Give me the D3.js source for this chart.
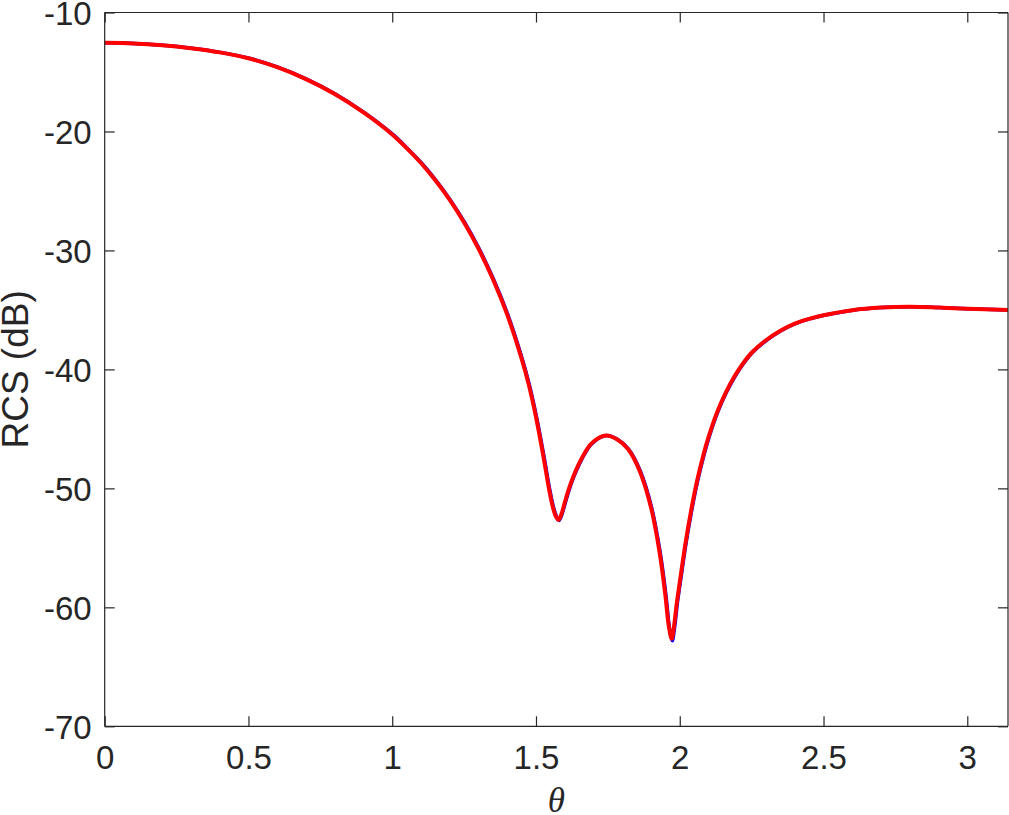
<!DOCTYPE html>
<html>
<head>
<meta charset="utf-8">
<script src="https://cdn.jsdelivr.net/npm/d3@7"></script>
<style>
  html, body { margin: 0; padding: 0; background: #fff; }
  svg { display: block; }
</style>
</head>
<body>
<svg id="chart" width="1009" height="815"></svg>
<script>
// ---- data ----
const theta = [0, 0.1, 0.2, 0.3, 0.4, 0.5, 0.6, 0.7, 0.8, 0.9, 1.0, 1.05, 1.1, 1.15, 1.2, 1.25, 1.3, 1.35, 1.4, 1.45, 1.475, 1.5, 1.525, 1.545, 1.56, 1.57, 1.578, 1.588, 1.6, 1.615, 1.63, 1.65, 1.67, 1.69, 1.715, 1.744, 1.78, 1.82, 1.86, 1.9, 1.93, 1.95, 1.962, 1.972, 1.98, 1.99, 2.0, 2.02, 2.04, 2.06, 2.08, 2.1, 2.13, 2.16, 2.19, 2.22, 2.25, 2.3, 2.35, 2.4, 2.45, 2.5, 2.6, 2.7, 2.8, 2.9, 3.0, 3.1416];
const rcsRed = [-12.55, -12.6, -12.75, -13.0, -13.35, -13.85, -14.6, -15.6, -16.85, -18.4, -20.25, -21.4, -22.65, -24.1, -25.75, -27.65, -29.85, -32.4, -35.4, -39.1, -41.3, -44.0, -47.2, -50.0, -51.7, -52.4, -52.65, -52.2, -51.2, -50.0, -49.0, -47.9, -47.0, -46.3, -45.8, -45.55, -45.85, -46.7, -48.5, -51.6, -55.4, -59.0, -61.6, -62.65, -61.6, -59.6, -57.9, -54.6, -51.8, -49.4, -47.4, -45.7, -43.6, -41.95, -40.6, -39.5, -38.6, -37.55, -36.75, -36.15, -35.75, -35.45, -35.02, -34.8, -34.73, -34.8, -34.9, -35.0];
const thetaBlue = [0, 0.102, 0.202, 0.302, 0.402, 0.502, 0.602, 0.702, 0.802, 0.902, 1.002, 1.052, 1.102, 1.152, 1.202, 1.252, 1.302, 1.352, 1.402, 1.452, 1.477, 1.502, 1.527, 1.547, 1.562, 1.572, 1.580, 1.590, 1.602, 1.617, 1.632, 1.652, 1.672, 1.692, 1.717, 1.746, 1.782, 1.822, 1.862, 1.902, 1.932, 1.952, 1.964, 1.974, 1.982, 1.992, 2.002, 2.022, 2.042, 2.062, 2.082, 2.102, 2.132, 2.162, 2.192, 2.222, 2.252, 2.302, 2.352, 2.402, 2.452, 2.502, 2.602, 2.702, 2.802, 2.902, 3.002, 3.1416];
const rcsBlue = [-12.55, -12.6, -12.75, -13.0, -13.35, -13.85, -14.6, -15.6, -16.85, -18.4, -20.25, -21.4, -22.65, -24.1, -25.75, -27.65, -29.85, -32.4, -35.4, -39.1, -41.3, -44.0, -47.2, -50.0, -51.7, -52.4, -52.7, -52.2, -51.2, -50.0, -49.0, -47.9, -47.0, -46.3, -45.8, -45.55, -45.85, -46.7, -48.5, -51.6, -55.4, -59.0, -61.7, -62.8, -61.7, -59.6, -57.9, -54.6, -51.8, -49.4, -47.4, -45.7, -43.6, -41.95, -40.6, -39.5, -38.6, -37.55, -36.75, -36.15, -35.75, -35.45, -35.02, -34.8, -34.73, -34.8, -34.9, -35.0];
const xTicks = [0, 0.5, 1, 1.5, 2, 2.5, 3];
const yTicks = [-70, -60, -50, -40, -30, -20, -10];
const xLabel = "θ";
const yLabel = "RCS (dB)";

// ---- layout ----
const svg = d3.select("#chart");
const L = 104.7, R = 1008, T = 12.5, B = 726.3;
const x = d3.scaleLinear().domain([0, Math.PI]).range([L, R]);
const y = d3.scaleLinear().domain([-70, -10]).range([B, T]);
const axisColor = "#262626";
const font = "'Liberation Sans', Helvetica, Arial, sans-serif";
const tickLen = 10;
const fmt = d => String(d);

const g = svg.append("g");

// curves
svg.append("defs").append("clipPath").attr("id", "clip")
  .append("rect").attr("x", L).attr("y", T).attr("width", R - L).attr("height", B - T);

const line = d3.line().x(d => x(d[0])).y(d => y(d[1])).curve(d3.curveCatmullRom.alpha(0.5));
const blueData = thetaBlue.map((t, i) => [t, rcsBlue[i]]);
const redData = theta.map((t, i) => [t, rcsRed[i]]);

const curves = g.append("g").attr("clip-path", "url(#clip)");
curves.append("path").datum(blueData).attr("d", line)
  .attr("fill", "none").attr("stroke", "#0000ff").attr("stroke-width", 3.5)
  .attr("stroke-linejoin", "round").attr("stroke-linecap", "round");
curves.append("path").datum(redData).attr("d", line)
  .attr("fill", "none").attr("stroke", "#ff0000").attr("stroke-width", 4)
  .attr("stroke-linejoin", "round").attr("stroke-linecap", "round");

// axes
const axB = d3.axisBottom(x).tickValues(xTicks).tickSize(-tickLen).tickFormat(fmt);
const axT = d3.axisTop(x).tickValues(xTicks).tickSize(-tickLen).tickFormat("");
const axLft = d3.axisLeft(y).tickValues(yTicks).tickSize(-tickLen).tickPadding(13).tickFormat(fmt);
const axRt = d3.axisRight(y).tickValues(yTicks).tickSize(-tickLen).tickFormat("");

function style(sel) {
  sel.selectAll("path").attr("stroke", axisColor).attr("stroke-width", 1.2);
  sel.selectAll("line").attr("stroke", axisColor).attr("stroke-width", 1.2);
  sel.selectAll("text").attr("fill", axisColor).style("font-family", font).style("font-size", "33px");
}
const gB = g.append("g").attr("transform", `translate(0,${B})`).call(axB);
gB.select(".domain").attr("d", `M${L},0H${R}`);
style(gB);
gB.selectAll("text").attr("dy", null).attr("y", 42.5);
const gT = g.append("g").attr("transform", `translate(0,${T})`).call(axT);
gT.select(".domain").attr("d", `M${L},0H${R}`);
style(gT);
const gL = g.append("g").attr("transform", `translate(${L},0)`).call(axLft);
gL.select(".domain").attr("d", `M0,${T}V${B}`);
style(gL);
gL.selectAll("text").attr("dy", "0.36em");
const gR = g.append("g").attr("transform", `translate(${R},0)`).call(axRt);
gR.select(".domain").attr("d", `M0,${T}V${B}`);
style(gR);

// labels
g.append("text").attr("x", (L + R) / 2).attr("y", 812)
  .attr("text-anchor", "middle").attr("fill", axisColor)
  .style("font-family", "'Liberation Serif', 'Times New Roman', serif")
  .style("font-style", "italic").style("font-size", "35px").text(xLabel);
g.append("text").attr("transform", `translate(28,${(T + B) / 2}) rotate(-90)`)
  .attr("text-anchor", "middle").attr("fill", axisColor)
  .style("font-family", font).style("font-size", "37px").text(yLabel);
</script>
</body>
</html>
